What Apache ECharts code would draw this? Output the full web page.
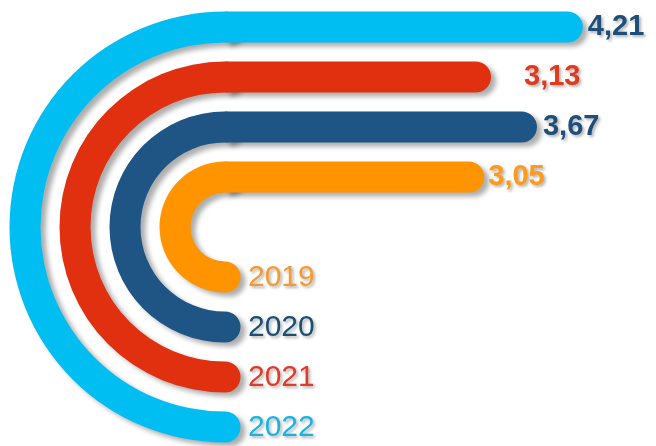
<!DOCTYPE html>
<html>
<head>
<meta charset="utf-8">
<script src="https://cdn.jsdelivr.net/npm/echarts@6/dist/echarts.min.js"></script>
<style>
  html, body { margin: 0; padding: 0; background: #fff; }
  #chart { width: 656px; height: 446px; }
</style>
</head>
<body>
<div id="chart"></div>
<script>
// 数据
var years = ['2019', '2020', '2021', '2022'];
var values = [3.05, 3.67, 3.13, 4.21];
var HALF_TURN = 180; // 半圆弧

// 样式
var barColors = ['#ff9300', '#1f5585', '#e0300f', '#00bdf2'];
var valueColors = ['#ff9a1a', '#1f4e79', '#e03a1e', '#1f4e79'];
var yearColors = ['#f59a30', '#1a4f73', '#e03a2a', '#1ab4e0'];
var labelGap = [4, 6, 33, 5];

var shadow = {
  shadowBlur: 5,
  shadowColor: 'rgba(0,0,0,0.32)',
  shadowOffsetX: 5,
  shadowOffsetY: 4
};
var textShadow = {
  textShadowBlur: 3,
  textShadowColor: 'rgba(0,0,0,0.3)',
  textShadowOffsetX: 2,
  textShadowOffsetY: 2
};

var fmt = function (v) { return v.toFixed(2).replace('.', ','); };

var myChart = echarts.init(document.getElementById('chart'));

var option = {
  backgroundColor: '#fff',
  animation: false,
  polar: {
    center: [225, 227],
    radius: [25, 225]
  },
  angleAxis: {
    type: 'value',
    min: 0,
    max: 360,
    startAngle: 90,
    clockwise: false,
    show: false
  },
  radiusAxis: {
    type: 'category',
    data: years,
    show: false
  },
  grid: [
    { left: 225, top: 2, width: 425, height: 200 },   // 顶部横条
    { left: 240, top: 278, width: 100, height: 150 }  // 年份标签
  ],
  xAxis: [
    { gridIndex: 0, type: 'value', min: 0, max: 5, show: false },
    { gridIndex: 1, type: 'value', min: 0, max: 1, show: false }
  ],
  yAxis: [
    { gridIndex: 0, type: 'category', data: years, show: false },
    {
      gridIndex: 1,
      type: 'category',
      data: years,
      inverse: true,
      boundaryGap: false,
      axisLine: { show: false },
      axisTick: { show: false },
      splitLine: { show: false },
      axisLabel: Object.assign({
        inside: true,
        margin: 8,
        fontFamily: 'Liberation Sans, Arial, sans-serif',
        fontSize: 30,
        color: function (value, index) { return yearColors[years.indexOf(value)]; }
      }, textShadow)
    }
  ],
  series: [
    {
      name: 'arc',
      type: 'bar',
      coordinateSystem: 'polar',
      roundCap: true,
      barWidth: 31,
      z: 1,
      data: years.map(function (y, i) {
        return {
          value: HALF_TURN,
          itemStyle: Object.assign({ color: barColors[i] }, shadow)
        };
      })
    },
    {
      name: 'value',
      type: 'bar',
      xAxisIndex: 0,
      yAxisIndex: 0,
      barWidth: 31,
      z: 3,
      data: values.map(function (v, i) {
        return {
          value: v,
          itemStyle: Object.assign({
            color: barColors[i],
            borderRadius: [0, 15.5, 15.5, 0]
          }, shadow),
          label: Object.assign({
            show: true,
            position: 'right',
            distance: labelGap[i],
            fontFamily: 'Liberation Sans, Arial, sans-serif',
            fontSize: 29,
            fontWeight: 'bold',
            color: valueColors[i],
            formatter: function (p) { return fmt(p.value); }
          }, textShadow)
        };
      })
    }
  ]
};

myChart.setOption(option);
</script>
</body>
</html>
